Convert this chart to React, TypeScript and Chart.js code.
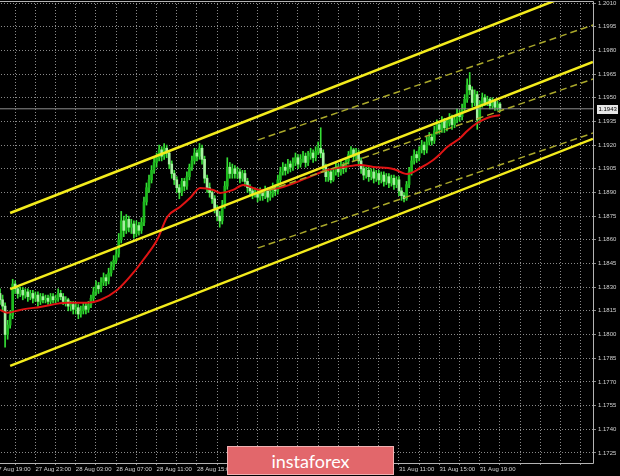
import React, { useEffect, useRef } from 'react';
import { Chart, registerables } from 'chart.js';

Chart.register(...registerables);

// EURUSD, M15 bars, 27 Aug 19:30 – 31 Aug 20:00 (hours counted from 27 Aug 21:00, weekend collapsed)
const FIRST_BAR_HOUR = -1.5;
const BAR_HOURS = 0.25;

const OPEN = [
  1.1826, 1.1822, 1.1818, 1.1800, 1.1806, 1.1812, 1.1832, 1.1829, 1.1826, 1.1828,
  1.1825, 1.1827, 1.1824, 1.1826, 1.1823, 1.1825, 1.1821, 1.1824, 1.1822, 1.1823,
  1.1821, 1.1824, 1.1822, 1.1823, 1.1826, 1.1824, 1.1821, 1.1822, 1.1818, 1.1819,
  1.1816, 1.1817, 1.1813, 1.1815, 1.1818, 1.1816, 1.1819, 1.1823, 1.1827, 1.1831,
  1.1829, 1.1833, 1.1836, 1.1834, 1.1839, 1.1843, 1.1847, 1.1851, 1.1860, 1.1872,
  1.1866, 1.1873, 1.1868, 1.1870, 1.1864, 1.1869, 1.1866, 1.1871, 1.1884, 1.1893,
  1.1898, 1.1904, 1.1909, 1.1912, 1.1917, 1.1913, 1.1918, 1.1915, 1.1908, 1.1902,
  1.1898, 1.1893, 1.1890, 1.1897, 1.1894, 1.1900, 1.1906, 1.1910, 1.1915, 1.1913,
  1.1918, 1.1911, 1.1899, 1.1893, 1.1890, 1.1886, 1.1880, 1.1875, 1.1872, 1.1882,
  1.1894, 1.1906, 1.1902, 1.1905, 1.1902, 1.1903, 1.1899, 1.1902, 1.1897, 1.1893,
  1.1891, 1.1889, 1.1890, 1.1887, 1.1890, 1.1888, 1.1891, 1.1887, 1.1889, 1.1893,
  1.1891, 1.1898, 1.1903, 1.1906, 1.1904, 1.1908, 1.1906, 1.1909, 1.1912, 1.1908,
  1.1911, 1.1913, 1.1909, 1.1913, 1.1915, 1.1912, 1.1916, 1.1918, 1.1915, 1.1906,
  1.1900, 1.1903, 1.1898, 1.1903, 1.1906, 1.1903, 1.1907, 1.1905, 1.1910, 1.1914,
  1.1917, 1.1913, 1.1915, 1.1910, 1.1905, 1.1901, 1.1904, 1.1900, 1.1903, 1.1899,
  1.1902, 1.1898, 1.1901, 1.1897, 1.1900, 1.1896, 1.1899, 1.1895, 1.1898, 1.1891,
  1.1888, 1.1886, 1.1895, 1.1903, 1.1910, 1.1914, 1.1912, 1.1917, 1.1920, 1.1917,
  1.1922, 1.1925, 1.1923, 1.1929, 1.1933, 1.1930, 1.1935, 1.1931, 1.1934, 1.1937,
  1.1933, 1.1936, 1.1940, 1.1938, 1.1943, 1.1949, 1.1958, 1.1955, 1.1947, 1.1952,
  1.1936, 1.1946, 1.1950, 1.1947, 1.1949, 1.1945, 1.1948, 1.1944, 1.1946,
];

const HIGH = [
  1.1829, 1.1825, 1.1820, 1.1809, 1.1815, 1.1835, 1.1834, 1.1831, 1.1830, 1.1830,
  1.1829, 1.1829, 1.1828, 1.1828, 1.1827, 1.1827, 1.1826, 1.1826, 1.1825, 1.1825,
  1.1826, 1.1826, 1.1825, 1.1829, 1.1828, 1.1826, 1.1824, 1.1823, 1.1821, 1.1821,
  1.1820, 1.1819, 1.1818, 1.1820, 1.1820, 1.1821, 1.1825, 1.1830, 1.1834, 1.1833,
  1.1836, 1.1839, 1.1838, 1.1842, 1.1846, 1.1850, 1.1855, 1.1864, 1.1878, 1.1875,
  1.1876, 1.1875, 1.1873, 1.1872, 1.1872, 1.1871, 1.1874, 1.1887, 1.1896, 1.1901,
  1.1907, 1.1912, 1.1915, 1.1920, 1.1919, 1.1921, 1.1920, 1.1916, 1.1910, 1.1904,
  1.1900, 1.1895, 1.1899, 1.1899, 1.1903, 1.1908, 1.1913, 1.1918, 1.1917, 1.1921,
  1.1920, 1.1913, 1.1901, 1.1896, 1.1892, 1.1888, 1.1882, 1.1878, 1.1885, 1.1897,
  1.1912, 1.1909, 1.1908, 1.1907, 1.1906, 1.1905, 1.1904, 1.1904, 1.1899, 1.1895,
  1.1893, 1.1893, 1.1892, 1.1893, 1.1892, 1.1894, 1.1893, 1.1892, 1.1896, 1.1895,
  1.1901, 1.1906, 1.1909, 1.1908, 1.1911, 1.1910, 1.1912, 1.1915, 1.1914, 1.1914,
  1.1916, 1.1915, 1.1916, 1.1918, 1.1917, 1.1919, 1.1922, 1.1931, 1.1917, 1.1908,
  1.1905, 1.1905, 1.1905, 1.1909, 1.1908, 1.1910, 1.1909, 1.1912, 1.1916, 1.1919,
  1.1918, 1.1918, 1.1917, 1.1912, 1.1907, 1.1906, 1.1906, 1.1905, 1.1905, 1.1904,
  1.1904, 1.1903, 1.1903, 1.1902, 1.1902, 1.1901, 1.1901, 1.1900, 1.1900, 1.1893,
  1.1890, 1.1897, 1.1906, 1.1913, 1.1917, 1.1916, 1.1919, 1.1923, 1.1922, 1.1925,
  1.1928, 1.1927, 1.1932, 1.1936, 1.1935, 1.1938, 1.1937, 1.1937, 1.1940, 1.1939,
  1.1939, 1.1943, 1.1942, 1.1946, 1.1952, 1.1962, 1.1966, 1.1957, 1.1955, 1.1954,
  1.1948, 1.1953, 1.1952, 1.1951, 1.1950, 1.1950, 1.1949, 1.1948, 1.1947,
];

const LOW = [
  1.1819, 1.1815, 1.1792, 1.1797, 1.1804, 1.1810, 1.1826, 1.1823, 1.1824, 1.1822,
  1.1823, 1.1821, 1.1822, 1.1820, 1.1821, 1.1818, 1.1819, 1.1820, 1.1820, 1.1819,
  1.1819, 1.1820, 1.1820, 1.1821, 1.1822, 1.1819, 1.1818, 1.1815, 1.1815, 1.1813,
  1.1813, 1.1810, 1.1811, 1.1813, 1.1813, 1.1814, 1.1817, 1.1821, 1.1825, 1.1826,
  1.1827, 1.1831, 1.1831, 1.1832, 1.1837, 1.1841, 1.1845, 1.1849, 1.1858, 1.1862,
  1.1864, 1.1865, 1.1864, 1.1861, 1.1862, 1.1863, 1.1864, 1.1869, 1.1882, 1.1890,
  1.1896, 1.1902, 1.1906, 1.1910, 1.1910, 1.1911, 1.1912, 1.1905, 1.1899, 1.1895,
  1.1890, 1.1886, 1.1888, 1.1891, 1.1892, 1.1898, 1.1904, 1.1908, 1.1910, 1.1911,
  1.1908, 1.1896, 1.1890, 1.1887, 1.1883, 1.1877, 1.1872, 1.1868, 1.1870, 1.1880,
  1.1892, 1.1899, 1.1899, 1.1899, 1.1899, 1.1896, 1.1897, 1.1894, 1.1890, 1.1888,
  1.1886, 1.1887, 1.1884, 1.1885, 1.1885, 1.1886, 1.1884, 1.1885, 1.1887, 1.1888,
  1.1889, 1.1896, 1.1901, 1.1901, 1.1902, 1.1903, 1.1904, 1.1907, 1.1905, 1.1906,
  1.1909, 1.1906, 1.1907, 1.1911, 1.1909, 1.1910, 1.1914, 1.1912, 1.1903, 1.1897,
  1.1897, 1.1896, 1.1897, 1.1901, 1.1900, 1.1901, 1.1902, 1.1903, 1.1908, 1.1912,
  1.1910, 1.1911, 1.1907, 1.1902, 1.1898, 1.1899, 1.1897, 1.1898, 1.1896, 1.1897,
  1.1895, 1.1896, 1.1894, 1.1895, 1.1893, 1.1894, 1.1892, 1.1893, 1.1888, 1.1885,
  1.1884, 1.1885, 1.1893, 1.1901, 1.1908, 1.1909, 1.1910, 1.1915, 1.1914, 1.1915,
  1.1920, 1.1920, 1.1921, 1.1927, 1.1927, 1.1928, 1.1928, 1.1929, 1.1932, 1.1930,
  1.1931, 1.1934, 1.1935, 1.1936, 1.1941, 1.1947, 1.1952, 1.1944, 1.1945, 1.1930,
  1.1934, 1.1944, 1.1945, 1.1945, 1.1943, 1.1943, 1.1942, 1.1942, 1.1941,
];

const CLOSE = [
  1.1822, 1.1818, 1.1800, 1.1806, 1.1812, 1.1832, 1.1829, 1.1826, 1.1828, 1.1825,
  1.1827, 1.1824, 1.1826, 1.1823, 1.1825, 1.1821, 1.1824, 1.1822, 1.1823, 1.1821,
  1.1824, 1.1822, 1.1823, 1.1826, 1.1824, 1.1821, 1.1822, 1.1818, 1.1819, 1.1816,
  1.1817, 1.1813, 1.1815, 1.1818, 1.1816, 1.1819, 1.1823, 1.1827, 1.1831, 1.1829,
  1.1833, 1.1836, 1.1834, 1.1839, 1.1843, 1.1847, 1.1851, 1.1860, 1.1872, 1.1866,
  1.1873, 1.1868, 1.1870, 1.1864, 1.1869, 1.1866, 1.1871, 1.1884, 1.1893, 1.1898,
  1.1904, 1.1909, 1.1912, 1.1917, 1.1913, 1.1918, 1.1915, 1.1908, 1.1902, 1.1898,
  1.1893, 1.1890, 1.1897, 1.1894, 1.1900, 1.1906, 1.1910, 1.1915, 1.1913, 1.1918,
  1.1911, 1.1899, 1.1893, 1.1890, 1.1886, 1.1880, 1.1875, 1.1872, 1.1882, 1.1894,
  1.1906, 1.1902, 1.1905, 1.1902, 1.1903, 1.1899, 1.1902, 1.1897, 1.1893, 1.1891,
  1.1889, 1.1890, 1.1887, 1.1890, 1.1888, 1.1891, 1.1887, 1.1889, 1.1893, 1.1891,
  1.1898, 1.1903, 1.1906, 1.1904, 1.1908, 1.1906, 1.1909, 1.1912, 1.1908, 1.1911,
  1.1913, 1.1909, 1.1913, 1.1915, 1.1912, 1.1916, 1.1918, 1.1915, 1.1906, 1.1900,
  1.1903, 1.1898, 1.1903, 1.1906, 1.1903, 1.1907, 1.1905, 1.1910, 1.1914, 1.1917,
  1.1913, 1.1915, 1.1910, 1.1905, 1.1901, 1.1904, 1.1900, 1.1903, 1.1899, 1.1902,
  1.1898, 1.1901, 1.1897, 1.1900, 1.1896, 1.1899, 1.1895, 1.1898, 1.1891, 1.1888,
  1.1886, 1.1895, 1.1903, 1.1910, 1.1914, 1.1912, 1.1917, 1.1920, 1.1917, 1.1922,
  1.1925, 1.1923, 1.1929, 1.1933, 1.1930, 1.1935, 1.1931, 1.1934, 1.1937, 1.1933,
  1.1936, 1.1940, 1.1938, 1.1943, 1.1949, 1.1958, 1.1955, 1.1947, 1.1952, 1.1936,
  1.1946, 1.1950, 1.1947, 1.1949, 1.1945, 1.1948, 1.1944, 1.1946, 1.1943,
];

// Moving average, sampled along its path
const MA_HOURS = [
  -1.49, -0.79, 0.5, 2.48, 5.15, 7.13, 8.42, 10.1, 11.68, 12.67, 14.06, 15.05, 16.34,
  17.33, 18.32, 19.6, 20.3, 21.58, 22.57, 24.26, 26.24, 28.91, 30.89, 32.67, 34.16,
  35.45, 37.43, 38.81, 40.1, 41.39, 42.08, 42.77, 44.06, 44.75, 45.74, 46.73, 48.02,
];
const MA_VALUES = [
  1.18156, 1.18138, 1.18156, 1.18175, 1.18201, 1.18201, 1.18219, 1.18282, 1.1839, 1.18472,
  1.186, 1.18745, 1.18809, 1.18866, 1.18929, 1.18916, 1.18897, 1.18916, 1.18948, 1.18916,
  1.18929, 1.18992, 1.19042, 1.19062, 1.19074, 1.19062, 1.19049, 1.19017, 1.19055, 1.19106,
  1.19144, 1.19188, 1.19245, 1.1929, 1.1934, 1.19372, 1.19391,
];

// Equidistant channel (solid) anchored at its two ends
const CHANNEL_HOURS = [-0.5, 57.2];
const CHANNEL_UPPER = [1.1877, 1.20209];
const CHANNEL_MIDDLE = [1.18288, 1.19727];
const CHANNEL_LOWER = [1.17801, 1.1924];

// Inner channel (dashed)
const INNER_HOURS = [24.06, 57.23];
const INNER_UPPER = [1.19233, 1.19961];
const INNER_MIDDLE = [1.18891, 1.19619];
const INNER_LOWER = [1.18549, 1.19277];

const BID_PRICE = 1.1943;

const PRICE_TICKS = [
  1.1725, 1.174, 1.1755, 1.177, 1.1785, 1.18, 1.1815, 1.183, 1.1845, 1.186,
  1.1875, 1.189, 1.1905, 1.192, 1.1935, 1.195, 1.1965, 1.198, 1.1995, 1.201,
];
const PRICE_MIN = 1.17186;
const PRICE_MAX = 1.20113;

const HOUR_MIN = -2;
const HOUR_MAX = 57.21;
const GRID_STEP_HOURS = 2;
const TIME_LABEL_HOURS = [-2, 2, 6, 10, 14, 18, 22, 26, 30, 34, 38, 42, 46];
const TIME_LABELS = [
  '27 Aug 19:00', '27 Aug 23:00', '28 Aug 03:00', '28 Aug 07:00', '28 Aug 11:00',
  '28 Aug 15:00', '28 Aug 19:00', '28 Aug 23:00', '31 Aug 03:00', '31 Aug 07:00',
  '31 Aug 11:00', '31 Aug 15:00', '31 Aug 19:00',
];

const UP_BODY = '#1dbb1d';
const DOWN_BODY = '#a8f2a2';
const WICK = '#35de35';
const MA_RED = '#e01414';
const CHANNEL_YELLOW = '#f4ec1c';
const INNER_YELLOW = '#aaa82a';
const GRID = '#8a8a8a';
const FRAME = '#b4b4b4';
const TEXT = '#d2d2d2';
const FONT = { family: 'Liberation Sans', size: 6 };

const framePlugin = {
  id: 'frame',
  afterDraw(chart: any) {
    const { ctx, chartArea: a, scales } = chart;
    ctx.save();
    ctx.strokeStyle = FRAME;
    ctx.lineWidth = 1;
    ctx.beginPath();
    ctx.moveTo(a.left, a.top + 0.5);
    ctx.lineTo(a.right + 0.5, a.top + 0.5);
    ctx.lineTo(a.right + 0.5, a.bottom + 0.5);
    ctx.lineTo(a.left, a.bottom + 0.5);
    ctx.stroke();

    // current price tag on the price scale
    const y = Math.round(scales.y.getPixelForValue(BID_PRICE));
    const x = a.right + 4;
    ctx.fillStyle = '#e6e6e6';
    ctx.fillRect(x, y - 4, 21, 9);
    ctx.fillStyle = '#000';
    ctx.font = `${FONT.size}px ${FONT.family}`;
    ctx.textBaseline = 'middle';
    ctx.textAlign = 'left';
    ctx.fillText(BID_PRICE.toFixed(4), x + 1.5, y + 0.5);
    ctx.restore();
  },
};

function line(hours: number[], values: number[], color: string, width: number, dash: number[] = [], order = 1) {
  return {
    type: 'line' as const,
    data: hours.map((h, i) => ({ x: h, y: values[i] })),
    borderColor: color,
    borderWidth: width,
    borderDash: dash,
    pointRadius: 0,
    fill: false,
    order,
  };
}

export default function App() {
  const ref = useRef<HTMLCanvasElement | null>(null);

  useEffect(() => {
    if (!ref.current) return;
    const barX = (i: number) => FIRST_BAR_HOUR + i * BAR_HOURS;
    const isUp = (i: number) => CLOSE[i] >= OPEN[i];

    const chart = new Chart(ref.current, {
      type: 'bar',
      data: {
        datasets: [
          {
            type: 'bar',
            data: LOW.map((l, i) => ({ x: barX(i), y: [l, HIGH[i]] })),
            backgroundColor: WICK,
            barThickness: 1,
            grouped: false,
            borderWidth: 0,
            order: 11,
          } as any,
          {
            type: 'bar',
            data: OPEN.map((o, i) => ({ x: barX(i), y: [o, CLOSE[i]] })),
            backgroundColor: (c: any) => (isUp(c.dataIndex) ? UP_BODY : DOWN_BODY),
            barThickness: 2,
            minBarLength: 1,
            grouped: false,
            borderWidth: 0,
            order: 10,
          } as any,
          line([HOUR_MIN, HOUR_MAX], [BID_PRICE, BID_PRICE], '#8e8e8e', 1, [], 5),
          {
            ...line(MA_HOURS, MA_VALUES, MA_RED, 2, [], 3),
            cubicInterpolationMode: 'monotone',
          },
          line(INNER_HOURS, INNER_UPPER, INNER_YELLOW, 1.5, [7, 4], 2),
          line(INNER_HOURS, INNER_MIDDLE, INNER_YELLOW, 1.5, [7, 4], 2),
          line(INNER_HOURS, INNER_LOWER, INNER_YELLOW, 1.5, [7, 4], 2),
          line(CHANNEL_HOURS, CHANNEL_UPPER, CHANNEL_YELLOW, 2.5, [], 1),
          line(CHANNEL_HOURS, CHANNEL_MIDDLE, CHANNEL_YELLOW, 2.5, [], 1),
          line(CHANNEL_HOURS, CHANNEL_LOWER, CHANNEL_YELLOW, 2.5, [], 1),
        ] as any,
      },
      options: {
        animation: false,
        responsive: false,
        maintainAspectRatio: false,
        devicePixelRatio: 1,
        events: [],
        layout: { padding: { top: 1, left: 0, right: 0, bottom: 0 } },
        plugins: { legend: { display: false }, tooltip: { enabled: false } },
        scales: {
          x: {
            type: 'linear',
            position: 'bottom',
            min: HOUR_MIN,
            max: HOUR_MAX,
            offset: false,
            grid: { color: GRID, lineWidth: 1, offset: false, drawTicks: true, tickLength: 2 },
            border: { display: false, dash: [1, 2] },
            afterBuildTicks: (s: any) => {
              const t = [];
              for (let h = HOUR_MIN; h <= HOUR_MAX; h += GRID_STEP_HOURS) t.push({ value: h });
              s.ticks = t;
            },
            afterFit: (s: any) => {
              s.height = 13;
              s.paddingLeft = 0;
              s.paddingRight = 0;
            },
            ticks: {
              autoSkip: false,
              maxRotation: 0,
              minRotation: 0,
              align: 'start',
              padding: 1,
              color: TEXT,
              font: FONT,
              callback: (v: any) => {
                const i = TIME_LABEL_HOURS.indexOf(Number(v));
                return i >= 0 ? TIME_LABELS[i] : '';
              },
            },
          },
          y: {
            type: 'linear',
            position: 'right',
            min: PRICE_MIN,
            max: PRICE_MAX,
            beginAtZero: false,
            grid: { color: GRID, lineWidth: 1, drawTicks: true, tickLength: 3 },
            border: { display: false, dash: [1, 2] },
            afterBuildTicks: (s: any) => {
              s.ticks = PRICE_TICKS.map((v) => ({ value: v }));
            },
            afterFit: (s: any) => {
              s.width = 27;
              s.paddingTop = 0;
              s.paddingBottom = 0;
            },
            ticks: {
              padding: 2,
              color: TEXT,
              font: FONT,
              callback: (v: any) => Number(v).toFixed(4),
            },
          },
        },
      } as any,
      plugins: [framePlugin],
    });
    return () => chart.destroy();
  }, []);

  return (
    <div
      style={{
        position: 'fixed',
        left: 0,
        top: 0,
        width: 620,
        height: 476,
        background: '#000',
        overflow: 'hidden',
      }}
    >
      <canvas
        ref={ref}
        width={625}
        height={476}
        style={{ position: 'absolute', left: -5, top: 0, width: 625, height: 476 }}
      />
      <div
        style={{
          position: 'absolute',
          left: 227,
          top: 446,
          width: 167,
          height: 29,
          boxSizing: 'border-box',
          background: '#e2676b',
          border: '1px solid #f0b0b2',
          color: '#fff',
          fontFamily: 'Lato, sans-serif',
          fontSize: 18,
          fontWeight: 400,
          display: 'flex',
          alignItems: 'center',
          justifyContent: 'center',
          lineHeight: 1,
        }}
      >
        instaforex
      </div>
    </div>
  );
}
